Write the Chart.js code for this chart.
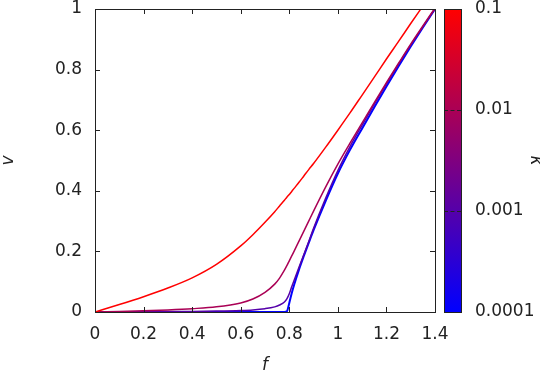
<!DOCTYPE html>
<html><head><meta charset="utf-8">
<script src="https://cdn.jsdelivr.net/npm/chart.js@4/dist/chart.umd.min.js"></script>
<style>html,body{margin:0;padding:0;background:#fff}#wrap{width:540px;height:374px}</style>
</head><body><div id="wrap"><canvas id="c" width="540" height="374"></canvas></div>
<script>
// ---- data ----
const fValues = [0, 0.1, 0.2, 0.3, 0.4, 0.5, 0.6, 0.65, 0.7, 0.74, 0.76, 0.78, 0.79, 0.8, 0.81, 0.82, 0.84, 0.86, 0.88, 0.9, 0.95, 1.0, 1.05, 1.1, 1.15, 1.2, 1.25, 1.3, 1.35, 1.4];
const kappaValues = [0.1, 0.01, 0.001, 0.0001];
const vKappa1e1 = [0, 0.0245, 0.0505, 0.079, 0.1125, 0.157, 0.218, 0.255, 0.296, 0.331, 0.35, 0.369, 0.379, 0.388, 0.398, 0.408, 0.428, 0.449, 0.47, 0.49, 0.544, 0.6, 0.657, 0.716, 0.775, 0.835, 0.893, 0.952, 1.01, 1.068];
const vKappa1e2 = [0, 0.002, 0.004, 0.007, 0.011, 0.017, 0.03, 0.043, 0.065, 0.092, 0.112, 0.138, 0.153, 0.169, 0.185, 0.201, 0.234, 0.267, 0.3, 0.333, 0.413, 0.488, 0.557, 0.624, 0.691, 0.757, 0.821, 0.884, 0.944, 1.003];
const vKappa1e3 = [0, 0.0005, 0.001, 0.0015, 0.002, 0.003, 0.005, 0.007, 0.011, 0.017, 0.023, 0.033, 0.043, 0.06, 0.083, 0.105, 0.148, 0.19, 0.232, 0.276, 0.376, 0.467, 0.546, 0.617, 0.686, 0.753, 0.818, 0.881, 0.941, 1.0];
const vKappa1e4 = [0, 0, 0, 0, 0, 0, 0, 0, 0, 0, 0, 0, 0.002, 0.03, 0.062, 0.09, 0.14, 0.185, 0.228, 0.27, 0.367, 0.457, 0.535, 0.606, 0.676, 0.744, 0.811, 0.876, 0.939, 1.0];
const xTicks = [0, 0.2, 0.4, 0.6, 0.8, 1, 1.2, 1.4];
const yTicks = [0, 0.2, 0.4, 0.6, 0.8, 1];
const kappaTicks = [0.1, 0.01, 0.001, 0.0001];
const xTitle = 'f', yTitle = 'v', kappaTitle = 'κ';

// ---- styling ----
const FONT = "'DejaVu Sans', sans-serif";
const TXT = '#222';
const kMin = Math.min(...kappaTicks), kMax = Math.max(...kappaTicks);
function kappaColor(k) {
  const t = (Math.log10(k) - Math.log10(kMin)) / (Math.log10(kMax) - Math.log10(kMin));
  const r = Math.round(255 * t), b = Math.round(255 * (1 - t));
  return `rgb(${r},0,${b})`;
}
const series = [vKappa1e1, vKappa1e2, vKappa1e3, vKappa1e4];
const datasets = series.map((vals, i) => ({
  label: 'κ=' + kappaValues[i],
  data: fValues.map((f, j) => ({x: f, y: vals[j]})),
  borderColor: kappaColor(kappaValues[i]),
  borderWidth: i === 3 ? 2 : 1.5,
  pointRadius: 0,
  cubicInterpolationMode: 'monotone',
  fill: false
}));

function noPad(s) { s.paddingTop = 0; s.paddingBottom = 0; s.paddingLeft = 0; s.paddingRight = 0; }

const decor = {
  id: 'decor',
  afterDatasetsDraw(chart) {
    const {ctx, chartArea: a, scales} = chart;
    ctx.save();
    ctx.strokeStyle = '#222';
    ctx.lineWidth = 1;
    const L = 5;
    ctx.beginPath();
    scales.x.ticks.forEach(t => {
      const px = Math.round(scales.x.getPixelForValue(t.value)) + 0.5;
      ctx.moveTo(px, a.bottom); ctx.lineTo(px, a.bottom - L);
      ctx.moveTo(px, a.top); ctx.lineTo(px, a.top + L);
    });
    scales.y.ticks.forEach(t => {
      const py = Math.round(scales.y.getPixelForValue(t.value)) + 0.5;
      ctx.moveTo(a.left, py); ctx.lineTo(a.left + L, py);
      ctx.moveTo(a.right, py); ctx.lineTo(a.right - L, py);
    });
    ctx.stroke();
    ctx.strokeRect(Math.round(a.left) + 0.5, Math.round(a.top) + 0.5, Math.round(a.right - a.left), Math.round(a.bottom - a.top));
    // colour bar
    const k = scales.k;
    const x0 = Math.round(a.right) + 9, w = 17;
    const yT = Math.round(k.getPixelForValue(kMax)), yB = Math.round(k.getPixelForValue(kMin));
    const g = ctx.createLinearGradient(0, yT, 0, yB);
    g.addColorStop(0, kappaColor(kMax));
    g.addColorStop(1, kappaColor(kMin));
    ctx.fillStyle = g;
    ctx.fillRect(x0, yT, w, yB - yT);
    ctx.strokeRect(x0 + 0.5, yT + 0.5, w, yB - yT);
    ctx.setLineDash([4, 2.5]);
    ctx.beginPath();
    kappaTicks.forEach(v => {
      if (v === kMin || v === kMax) return;
      const py = Math.round(k.getPixelForValue(v)) + 0.5;
      ctx.moveTo(x0, py); ctx.lineTo(x0 + w + 0.5, py);
    });
    ctx.stroke();
    ctx.restore();
  }
};

new Chart(document.getElementById('c'), {
  type: 'line',
  data: {datasets},
  plugins: [decor],
  options: {
    responsive: false,
    animation: false,
    devicePixelRatio: 1,
    layout: {padding: {top: 9, left: 0, right: 0, bottom: 0}},
    plugins: {legend: {display: false}, tooltip: {enabled: false}},
    scales: {
      x: {
        type: 'linear', min: 0, max: 1.4,
        afterBuildTicks: s => { s.ticks = xTicks.map(v => ({value: v})); },
        afterFit: s => { s.height = 62; noPad(s); },
        grid: {display: false, drawTicks: false},
        border: {display: false},
        ticks: {padding: 12, color: TXT, font: {family: FONT, size: 17}, callback: v => String(v), maxRotation: 0, autoSkip: false},
        title: {display: true, text: xTitle, color: TXT, padding: 0, font: {family: FONT, size: 17, style: 'italic', lineHeight: 1}}
      },
      y: {
        type: 'linear', min: 0, max: 1,
        afterBuildTicks: s => { s.ticks = yTicks.map(v => ({value: v})); },
        afterFit: s => { s.width = 95; noPad(s); },
        grid: {display: false, drawTicks: false},
        border: {display: false},
        ticks: {padding: 13, color: TXT, font: {family: FONT, size: 17}, callback: v => String(v), autoSkip: false},
        title: {display: true, text: yTitle, color: TXT, padding: 0, font: {family: FONT, size: 17, style: 'italic', lineHeight: 1}}
      },
      k: {
        axis: 'y', type: 'logarithmic', position: 'right', min: kMin, max: kMax,
        afterBuildTicks: s => { s.ticks = kappaTicks.map(v => ({value: v})); },
        afterFit: s => { s.width = 105; noPad(s); },
        grid: {display: false, drawTicks: false},
        border: {display: false},
        ticks: {padding: 40, color: TXT, font: {family: FONT, size: 17}, callback: v => String(v), autoSkip: false},
        title: {display: true, text: kappaTitle, color: TXT, padding: {top: -4, bottom: 0}, font: {family: FONT, size: 17, style: 'italic', lineHeight: 1}}
      }
    }
  }
});
</script>
</body></html>
